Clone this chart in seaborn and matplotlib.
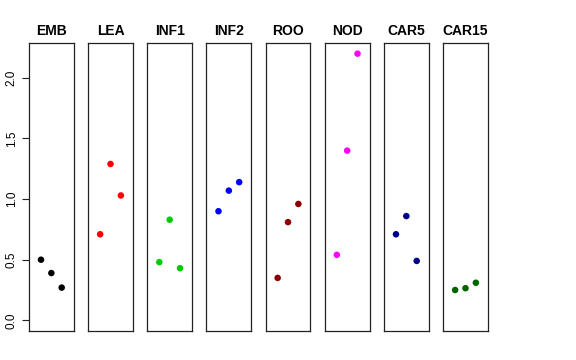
import pandas as pd
import numpy as np
import matplotlib
matplotlib.use('Agg')
import matplotlib.pyplot as plt
import seaborn as sns

# Set style
sns.set_style('white')
plt.rcParams['font.family'] = ['Liberation Sans', 'DejaVu Sans']
plt.rcParams['text.color'] = 'black'
plt.rcParams['ytick.color'] = 'black'
plt.rcParams['axes.labelcolor'] = 'black'

# Groups shown in the panels, left to right
groups = ['EMB', 'LEA', 'INF1', 'INF2', 'ROO', 'NOD', 'CAR5', 'CAR15']
colors = ['#000000', '#FF0000', '#00CD00', '#0000FF', '#8B0000', '#FF00FF', '#00008B', '#006400']

# Three replicate values per group
emb = [0.50, 0.39, 0.27]
lea = [0.71, 1.29, 1.03]
inf1 = [0.48, 0.83, 0.43]
inf2 = [0.90, 1.07, 1.14]
roo = [0.35, 0.81, 0.96]
nod = [0.54, 1.40, 2.20]
car5 = [0.71, 0.86, 0.49]
car15 = [0.25, 0.265, 0.31]
replicates = [1, 2, 3]

values = [emb, lea, inf1, inf2, roo, nod, car5, car15]

# Build long table
rows = []
for g, vals in zip(groups, values):
    for r, v in zip(replicates, vals):
        rows.append({'group': g, 'replicate': r, 'value': v})
df = pd.DataFrame(rows)

fig, axes = plt.subplots(1, len(groups), figsize=(5.76, 3.6), dpi=100, sharey=True)
fig.subplots_adjust(left=0.0503, right=0.847, bottom=0.0806, top=0.8806, wspace=0.322)

for ax, g, c in zip(axes, groups, colors):
    sub = df[df['group'] == g]
    sns.scatterplot(data=sub, x='replicate', y='value', color=c, s=22,
                    edgecolor='none', ax=ax, legend=False)
    ax.set_xlim(-0.16, 4.16)
    ax.set_ylim(-0.088, 2.288)
    ax.set_xticks([])
    ax.set_xlabel('')
    ax.set_ylabel('')
    ax.set_title(g, fontsize=10, fontweight='bold', pad=6, color='black')
    for sp in ax.spines.values():
        sp.set_color('#222222')
        sp.set_linewidth(0.9)
    ax.tick_params(axis='y', left=False, labelleft=False)

# y axis only on the first panel
axes[0].set_yticks([0.0, 0.5, 1.0, 1.5, 2.0])
axes[0].set_yticklabels(['0.0', '0.5', '1.0', '1.5', '2.0'], rotation=90, va='center')
axes[0].tick_params(axis='y', left=True, labelleft=True, length=5, width=0.8,
                    labelsize=8.5, pad=3, color='#222222', labelcolor='black')

plt.savefig('out.png', dpi=100)
